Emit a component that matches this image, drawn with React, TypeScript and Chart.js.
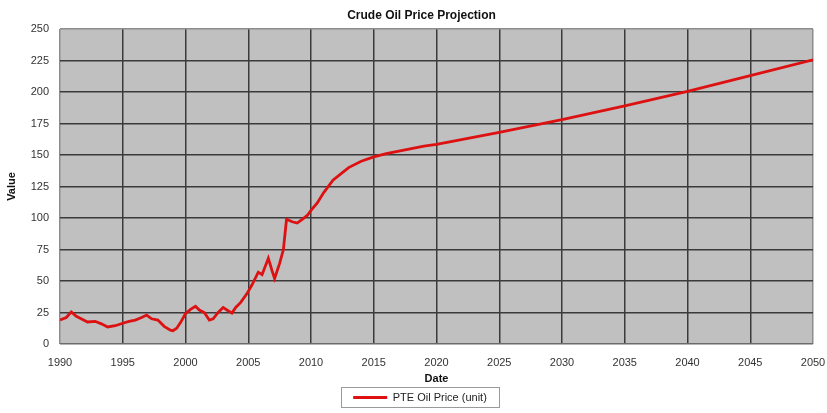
import React, { useEffect, useRef } from "react";
import { Chart, registerables } from "chart.js";

Chart.register(...registerables);

const chartTitle = "Crude Oil Price Projection";
const xAxisTitle = "Date";
const yAxisTitle = "Value";
const seriesLabel = "PTE Oil Price (unit)";

const years: number[] = [
  1990.0, 1990.5, 1990.9, 1991.3, 1991.8, 1992.2, 1992.8, 1993.3, 1993.8, 1994.4,
  1995.0, 1995.5, 1996.0, 1996.5, 1996.9, 1997.3, 1997.8, 1998.3, 1998.8, 1999.0,
  1999.3, 1999.6, 2000.0, 2000.4, 2000.8, 2001.1, 2001.5, 2001.9, 2002.2, 2002.6,
  2003.0, 2003.3, 2003.7, 2004.0, 2004.4, 2004.9, 2005.3, 2005.8, 2006.1, 2006.6,
  2006.9, 2007.1, 2007.5, 2007.8, 2008.05, 2008.5, 2008.9, 2009.3, 2009.7, 2010.0,
  2010.5, 2011.0, 2011.75, 2012.5, 2013.0, 2014.0, 2015.0, 2016.0, 2017.0, 2018.0,
  2019.0, 2020.0, 2025.0, 2030.0, 2035.0, 2040.0, 2045.0, 2050.0,
];

const prices: number[] = [
  19, 21, 25.5, 22, 19.5, 17.5, 18, 16, 13.5, 14.5,
  16.5, 18, 19, 21, 23, 20, 19, 14, 11, 10.5,
  12.5, 17, 24, 27.5, 30, 27, 25, 19, 20, 25,
  29, 27, 24.5, 29, 33, 40, 47, 57, 55, 68,
  58, 52, 64, 75, 99, 97, 96, 99, 102, 106,
  112, 120, 130, 136, 140, 145, 148.5, 151, 153, 155,
  157, 158.5, 168, 178, 189, 200.5, 213, 225.5,
];

const xTicks: number[] = [1990, 1995, 2000, 2005, 2010, 2015, 2020, 2025, 2030, 2035, 2040, 2045, 2050];
const yTicks: number[] = [0, 25, 50, 75, 100, 125, 150, 175, 200, 225, 250];

const FONT = 'Arial, "Liberation Sans", sans-serif';

export default function App() {
  const ref = useRef<HTMLCanvasElement | null>(null);

  useEffect(() => {
    if (!ref.current) return;
    const plotBg = {
      id: "plotBg",
      beforeDraw(chart: any) {
        const { ctx, chartArea } = chart;
        ctx.save();
        ctx.fillStyle = "#c0c0c0";
        ctx.fillRect(chartArea.left, chartArea.top, chartArea.right - chartArea.left, chartArea.bottom - chartArea.top);
        ctx.restore();
      },
    };
    const shiftBoxes = {
      id: "shiftBoxes",
      afterLayout(chart: any) {
        if (chart.legend) chart.legend.left += 27;
        if (chart.titleBlock) chart.titleBlock.left += 30;
      },
    };
    const legendBorder = {
      id: "legendBorder",
      afterDraw(chart: any) {
        const lg = chart.legend;
        if (!lg || !lg.legendHitBoxes || !lg.legendHitBoxes.length) return;
        const hb = lg.legendHitBoxes[0];
        const { ctx } = chart;
        ctx.save();
        ctx.strokeStyle = "#9a9a9a";
        ctx.lineWidth = 1;
        ctx.strokeRect(Math.round(hb.left - 12) + 0.5, Math.round(hb.top - 5) + 0.5, Math.round(hb.width + 24), Math.round(hb.height + 9));
        ctx.restore();
      },
    };

    const chart = new Chart(ref.current, {
      type: "line",
      data: {
        datasets: [
          {
            label: seriesLabel,
            data: years.map((y, i) => ({ x: y, y: prices[i] })),
            borderColor: "#dd1111",
            backgroundColor: "#dd1111",
            borderWidth: 2.8,
            pointRadius: 0,
            tension: 0,
          },
        ],
      },
      options: {
        animation: false,
        responsive: false,
        maintainAspectRatio: false,
        layout: { padding: { left: 0, right: 14, top: 0, bottom: 0 } },
        plugins: {
          title: {
            display: true,
            text: chartTitle,
            color: "#111",
            font: { family: FONT, size: 12, weight: "bold" },
            padding: { top: 8, bottom: 6.6 },
          },
          legend: {
            display: true,
            position: "bottom",
            labels: {
              color: "#222",
              font: { family: FONT, size: 11 },
              usePointStyle: true,
              pointStyle: "line",
              pointStyleWidth: 34,
              padding: 6,
            },
          },
          tooltip: { enabled: false },
        },
        scales: {
          x: {
            type: "linear",
            min: 1990,
            max: 2050,
            afterBuildTicks(scale: any) {
              scale.ticks = xTicks.map((v) => ({ value: v }));
            },
            afterFit(scale: any) {
              scale.height = 42;
              scale.paddingLeft = 0;
              scale.paddingRight = 0;
            },
            ticks: {
              color: "#333",
              font: { family: FONT, size: 11 },
              padding: 12,
              maxRotation: 0,
              autoSkip: false,
              callback: (v: any) => String(v),
            },
            grid: {
              drawTicks: false,
              color: (c: any) => (c.tick && (c.tick.value === 1990 || c.tick.value === 2050) ? "#8c8c8c" : "#3a3a3a"),
              lineWidth: 1.5,
            },
            border: { display: false },
            title: {
              display: true,
              text: xAxisTitle,
              color: "#111",
              font: { family: FONT, size: 11, weight: "bold" },
              padding: { top: 0, bottom: 0 },
            },
          },
          y: {
            type: "linear",
            min: 0,
            max: 250,
            afterBuildTicks(scale: any) {
              scale.ticks = yTicks.map((v) => ({ value: v }));
            },
            afterFit(scale: any) {
              scale.width = 60;
            },
            ticks: {
              color: "#333",
              font: { family: FONT, size: 11 },
              padding: 11,
              autoSkip: false,
            },
            grid: {
              drawTicks: false,
              color: (c: any) => (c.tick && c.tick.value === 250 ? "#8c8c8c" : c.tick && c.tick.value === 0 ? "#6a6a6a" : "#3a3a3a"),
              lineWidth: 1.5,
            },
            border: { display: false },
            title: {
              display: true,
              text: yAxisTitle,
              color: "#111",
              font: { family: FONT, size: 11, weight: "bold" },
              padding: { top: 5, bottom: 0 },
            },
          },
        },
      },
      plugins: [plotBg, shiftBoxes, legendBorder],
    } as any);
    return () => chart.destroy();
  }, []);

  return (
    <div style={{ position: "fixed", left: 0, top: 0, width: 827, height: 413, background: "#fff" }}>
      <canvas ref={ref} width={827} height={413} style={{ width: 827, height: 413, display: "block" }} />
    </div>
  );
}
